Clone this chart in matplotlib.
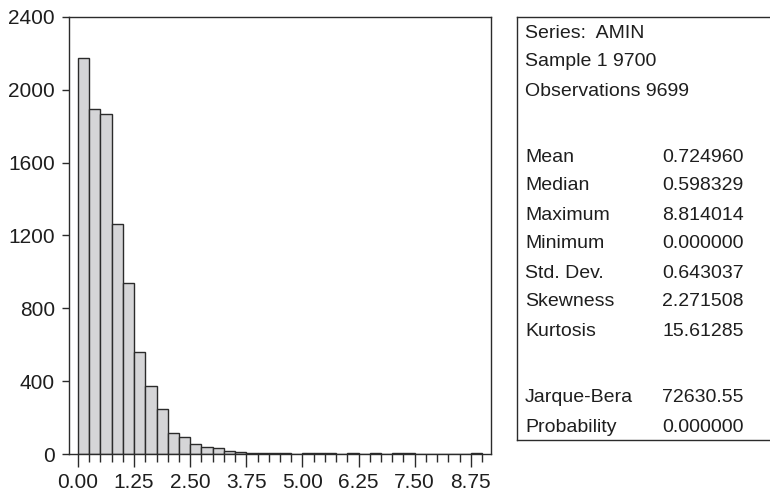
import matplotlib
matplotlib.use("Agg")
import matplotlib.pyplot as plt
from matplotlib.ticker import MultipleLocator
import numpy as np

plt.rcParams['font.family'] = ['Liberation Sans', 'DejaVu Sans']

# histogram of AMIN, bins of width 0.25 starting at 0
bin_width = 0.25
counts = [2175, 1895, 1870, 1265, 940, 558, 375, 245, 117, 95, 55, 38, 33, 18,
          12, 8, 4, 4, 4, 1, 3, 3, 3, 0, 3, 0, 3, 0, 3, 3, 0, 0, 0, 0, 0, 3]
x_ticks = [0.00, 1.25, 2.50, 3.75, 5.00, 6.25, 7.50, 8.75]
y_ticks = [0, 400, 800, 1200, 1600, 2000, 2400]

header = ["Series:  AMIN", "Sample 1 9700", "Observations 9699"]
stat_names = ["Mean", "Median", "Maximum", "Minimum", "Std. Dev.", "Skewness", "Kurtosis"]
stat_values = ["0.724960", "0.598329", "8.814014", "0.000000", "0.643037", "2.271508", "15.61285"]
test_names = ["Jarque-Bera", "Probability"]
test_values = ["72630.55", "0.000000"]

W, H = 770, 492
ink = '#2b2b2b'
txt = '#1e1e1e'
fig = plt.figure(figsize=(W / 100, H / 100), dpi=100)

ax = fig.add_axes([69 / W, 1 - 454 / H, (491 - 69) / W, (454 - 17) / H])
edges = np.arange(len(counts)) * bin_width
ax.bar(edges, counts, width=bin_width, align='edge', color='#d5d5d7',
       edgecolor=ink, linewidth=1.0)
ax.set_xlim(-0.2, 9.2)
ax.set_ylim(0, 2400)
ax.set_xticks(x_ticks, labels=[f"{v:.2f}" for v in x_ticks])
ax.set_yticks(y_ticks)
ax.xaxis.set_minor_locator(MultipleLocator(bin_width))
ax.tick_params(axis='both', which='major', direction='out', colors=ink,
               labelsize=15, labelcolor=txt, width=1.0)
ax.tick_params(axis='x', which='major', length=9.5, pad=4.5)
ax.tick_params(axis='x', which='minor', length=5.5, width=1.0, color=ink)
ax.tick_params(axis='y', which='major', length=5, pad=5)
for s in ax.spines.values():
    s.set_color(ink)
    s.set_linewidth(1.0)

# statistics panel (right edge runs off the picture)
px = fig.add_axes([517 / W, 1 - 440 / H, (775 - 517) / W, (440 - 17) / H])
px.set_xlim(517, 775)
px.set_ylim(440, 17)
px.set_xticks([])
px.set_yticks([])
for s in px.spines.values():
    s.set_color(ink)
    s.set_linewidth(1.0)
px.spines['right'].set_visible(False)

fs = 14
tx, vx = 525, 662
for i, t in enumerate(header):
    px.text(tx, 33 + 29 * i, t, fontsize=fs, color=txt, va='center')
for i, (n, v) in enumerate(zip(stat_names, stat_values)):
    y = 157 + 29 * i
    px.text(tx, y, n, fontsize=fs, color=txt, va='center')
    px.text(vx, y, v, fontsize=fs, color=txt, va='center')
for i, (n, v) in enumerate(zip(test_names, test_values)):
    y = 398 + 29 * i
    px.text(tx, y, n, fontsize=fs, color=txt, va='center')
    px.text(vx, y, v, fontsize=fs, color=txt, va='center')

fig.savefig("out.png", dpi=100)
